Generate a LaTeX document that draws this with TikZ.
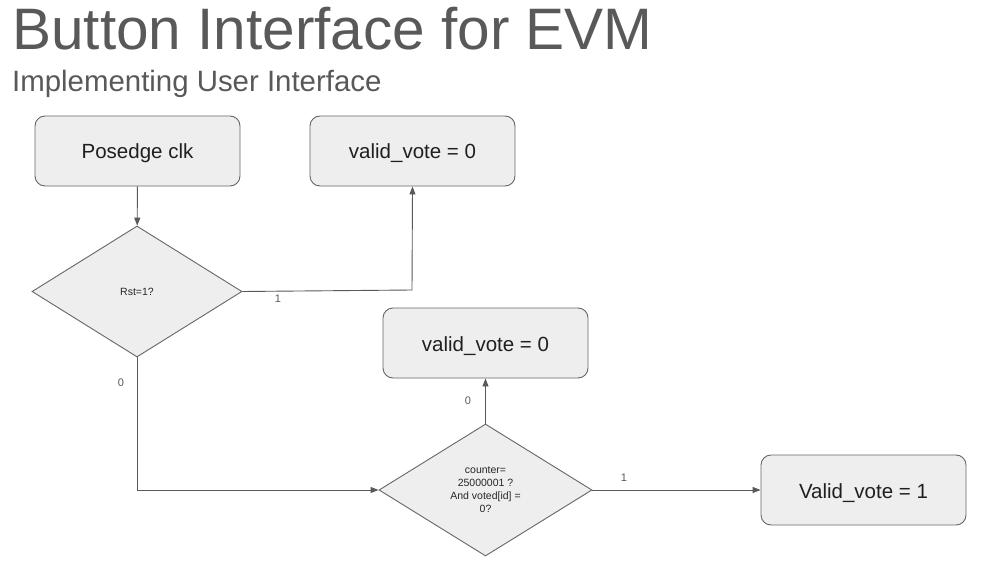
\documentclass[tikz,border=0pt]{standalone}
\usepackage{fontspec}
\setmainfont{Liberation Sans}
\usetikzlibrary{shapes.geometric,arrows.meta}
\definecolor{boxfill}{HTML}{EEEEEE}
\definecolor{boxline}{HTML}{666666}
\definecolor{titlegray}{HTML}{595959}
\tikzset{
  box/.style={draw=boxline,fill=boxfill,rounded corners=10pt,line width=0.9pt,
    minimum width=205pt,minimum height=70pt,inner sep=0pt,text=black!88,
    text height=16pt,text depth=0pt,font=\fontsize{20.5}{24}\selectfont},
  decision/.style={diamond,draw=boxline,fill=boxfill,line width=0.9pt,inner sep=0pt,
    align=center,text=black!85,font=\fontsize{10.5}{13}\selectfont},
  flow/.style={draw=titlegray,line width=0.9pt,-{Triangle[length=8pt,width=6pt]}},
  lbl/.style={text=titlegray,font=\fontsize{11}{13}\selectfont,inner sep=0pt}
}
\begin{document}
\begin{tikzpicture}[x=1pt,y=-1pt]
\useasboundingbox[fill=white](0,0)rectangle(981,564);
% headings
\node[anchor=base west,inner sep=0pt,text=titlegray,font=\fontsize{58.5}{60}\selectfont](title)at(12,50){Button Interface for EVM};
\node[anchor=base west,inner sep=0pt,text=titlegray,font=\fontsize{29.4}{31}\selectfont](subtitle)at(12,92){Implementing User Interface};
% boxes
\node[box](clk)at(137.5,151){Posedge clk};
\node[box](rstout)at(412.5,151){valid\_vote = 0};
\node[box](zero)at(485.5,343){valid\_vote = 0};
\node[box](one)at(863.5,490){Valid\_vote = 1};
% decisions
\node[decision,minimum width=210pt,minimum height=131pt](rst)at(137,291.5){Rst=1?};
\node[decision,minimum width=213pt,minimum height=132pt](cnt)at(485.5,490){counter=\\25000001 ?\\And voted[id] =\\0?};
% connectors
\draw[flow](clk)--(rst);
\draw[flow](rst.east)--(412,290)--(rstout.south);
\draw[flow](rst.south)--(137,490)--(cnt.west);
\draw[flow](cnt.north)--(zero.south);
\draw[flow](cnt.east)--(one.west);
% branch labels
\node[lbl](l1)at(278,299){1};
\node[lbl](l2)at(121,383){0};
\node[lbl](l3)at(468,401){0};
\node[lbl](l4)at(624,478){1};
\end{tikzpicture}
\end{document}
